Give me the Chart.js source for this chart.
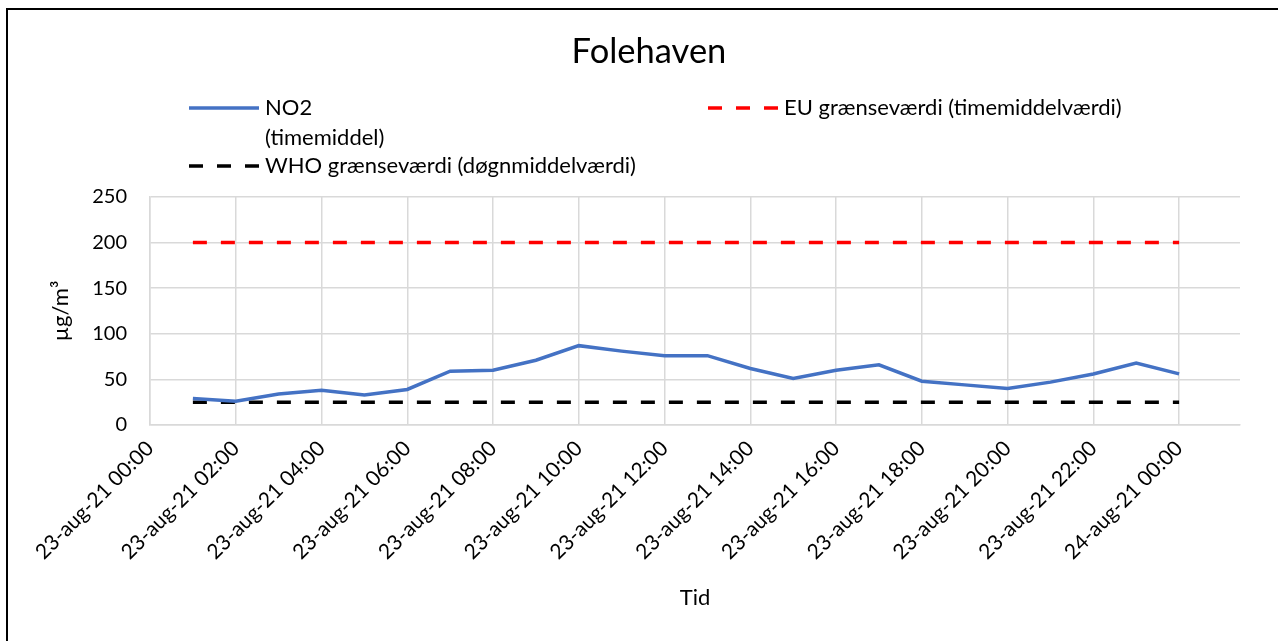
<!DOCTYPE html>
<html lang="da">
<head>
<meta charset="UTF-8">
<title>Folehaven</title>
<script src="https://cdn.jsdelivr.net/npm/chart.js"></script>
<style>
    body {
        margin: 0;
        padding: 0;
        background: #fff;
        overflow: hidden;
    }
    #frame {
        position: absolute;
        left: 6px;
        top: 8px;
        width: 1300px;
        height: 700px;
        border-top: 2px solid #000;
        border-left: 2px solid #000;
    }
    #chart {
        position: absolute;
        left: 0;
        top: 0;
    }
</style>
</head>
<body>
<div id="frame"></div>
<canvas id="chart" width="1278" height="641"></canvas>
<script>
    // hours after 23-aug-21 00:00
    const hours = [1, 2, 3, 4, 5, 6, 7, 8, 9, 10, 11, 12, 13, 14, 15, 16, 17, 18, 19, 20, 21, 22, 23, 24];
    const no2 = [29, 26, 34, 38, 33, 39, 59, 60, 71, 87, 81, 76, 76, 62, 51, 60, 66, 48, 44, 40, 47, 56, 68, 56];
    const euLimit = [200, 200, 200, 200, 200, 200, 200, 200, 200, 200, 200, 200, 200, 200, 200, 200, 200, 200, 200, 200, 200, 200, 200, 200];
    const whoLimit = [25, 25, 25, 25, 25, 25, 25, 25, 25, 25, 25, 25, 25, 25, 25, 25, 25, 25, 25, 25, 25, 25, 25, 25];
    const xTickLabels = ["23-aug-21 00:00", "23-aug-21 02:00", "23-aug-21 04:00", "23-aug-21 06:00",
        "23-aug-21 08:00", "23-aug-21 10:00", "23-aug-21 12:00", "23-aug-21 14:00", "23-aug-21 16:00",
        "23-aug-21 18:00", "23-aug-21 20:00", "23-aug-21 22:00", "24-aug-21 00:00"];
    const yTicks = [0, 50, 100, 150, 200, 250];

    const FONT = "Lato, 'Liberation Sans', sans-serif";
    const GRID = "#d9d9d9";

    function toPoints(values) {
        return hours.map((h, i) => ({ x: h, y: values[i] }));
    }

    // Excel-style title and two-column legend, drawn on top of the chart
    const excelLegend = {
        id: "excelLegend",
        afterDraw(chart) {
            const ctx = chart.ctx;
            ctx.save();
            ctx.fillStyle = "#000";
            ctx.textBaseline = "middle";
            ctx.textAlign = "center";
            ctx.font = "34.5px " + FONT;
            ctx.fillText("Folehaven", 649, 52);

            const slots = [
                { x: 189, y: 108 },  // NO2
                { x: 708, y: 108 },  // EU
                { x: 189, y: 166 }   // WHO
            ];
            ctx.font = "22px " + FONT;
            ctx.textAlign = "left";
            chart.data.datasets.forEach((ds, i) => {
                const s = slots[i];
                ctx.strokeStyle = ds.borderColor;
                ctx.lineWidth = ds.borderWidth;
                ctx.setLineDash(ds.borderDash || []);
                ctx.beginPath();
                ctx.moveTo(s.x, s.y);
                ctx.lineTo(s.x + 70, s.y);
                ctx.stroke();
                const lines = Array.isArray(ds.label) ? ds.label : [ds.label];
                lines.forEach((t, k) => ctx.fillText(t, s.x + 76, s.y + k * 30));
            });
            ctx.restore();
        }
    };

    new Chart(document.getElementById("chart"), {
        type: "line",
        data: {
            datasets: [
                {
                    label: ["NO2", "(timemiddel)"],
                    data: toPoints(no2),
                    borderColor: "#4472c4",
                    borderWidth: 3.5,
                    pointRadius: 0,
                    tension: 0
                },
                {
                    label: "EU grænseværdi (timemiddelværdi)",
                    data: toPoints(euLimit),
                    borderColor: "#ff0000",
                    borderWidth: 3.5,
                    borderDash: [14, 14],
                    pointRadius: 0
                },
                {
                    label: "WHO grænseværdi (døgnmiddelværdi)",
                    data: toPoints(whoLimit),
                    borderColor: "#000000",
                    borderWidth: 3.5,
                    borderDash: [14, 14],
                    pointRadius: 0
                }
            ]
        },
        options: {
            responsive: false,
            animation: false,
            layout: {
                padding: { top: 197, left: 0, right: 38, bottom: 0 }
            },
            plugins: {
                legend: { display: false },
                title: { display: false },
                tooltip: { enabled: false }
            },
            scales: {
                x: {
                    type: "linear",
                    min: 0,
                    max: 25.42,
                    afterBuildTicks: (scale) => {
                        scale.ticks = xTickLabels.map((_, i) => ({ value: i * 2 }));
                    },
                    afterFit: (scale) => { scale.height = 641 - 425; },
                    grid: { color: GRID, lineWidth: 1.5, drawTicks: false },
                    border: { color: GRID, width: 1.5 },
                    ticks: {
                        autoSkip: false,
                        maxRotation: 45,
                        minRotation: 45,
                        padding: 11,
                        color: "#000",
                        font: { family: FONT, size: 21 },
                        callback: (value) => xTickLabels[value / 2]
                    },
                    title: {
                        display: true,
                        text: "Tid",
                        color: "#000",
                        font: { family: FONT, size: 22 },
                        padding: { top: 0, bottom: 30 }
                    }
                },
                y: {
                    min: 0,
                    max: 250,
                    afterBuildTicks: (scale) => {
                        scale.ticks = yTicks.map((v) => ({ value: v }));
                    },
                    afterFit: (scale) => { scale.width = 150; },
                    grid: { color: GRID, lineWidth: 1.5, drawTicks: false },
                    border: { color: GRID, width: 1.5 },
                    ticks: {
                        padding: 23,
                        color: "#000",
                        font: { family: FONT, size: 20 }
                    },
                    title: {
                        display: true,
                        text: "µg/m³",
                        color: "#000",
                        font: { family: FONT, size: 22 },
                        padding: { top: 48, bottom: 0 }
                    }
                }
            }
        },
        plugins: [excelLegend]
    });
</script>
</body>
</html>
